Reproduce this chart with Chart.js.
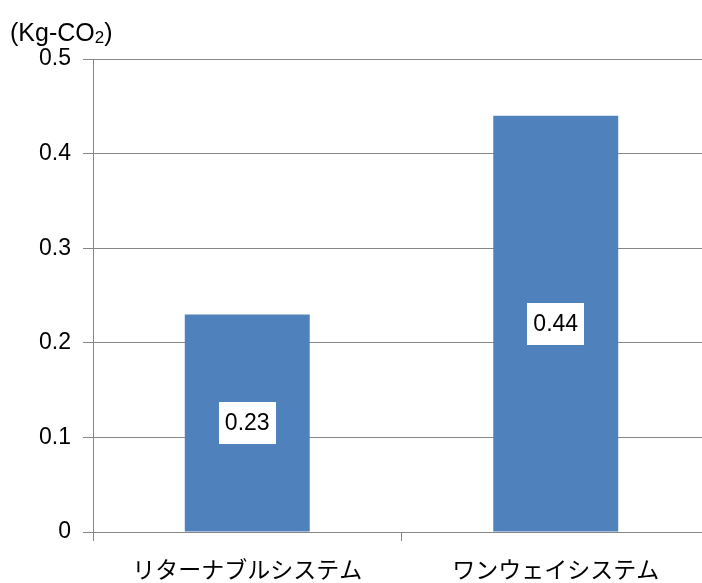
<!DOCTYPE html>
<html>
<head>
<meta charset="utf-8">
<script src="https://cdn.jsdelivr.net/npm/chart.js@4/dist/chart.umd.min.js"></script>
<style>
  html, body { margin: 0; padding: 0; background: #fff; overflow: hidden; }
  #wrap { width: 710px; height: 583px; position: relative; }
</style>
</head>
<body>
<div id="wrap"><canvas id="c"></canvas></div>
<script>
// Emissions per system (kg-CO2)
const categories = ['リターナブルシステム', 'ワンウェイシステム'];
const emissions = [0.23, 0.44];

const FONT = '"Liberation Sans", Arial, "Noto Sans CJK JP", sans-serif';
const AXIS_GREY = '#868686';

// Draws each value inside a white box centred on its bar
const valueBoxes = {
  id: 'valueBoxes',
  afterDatasetsDraw(chart) {
    const ctx = chart.ctx;
    const meta = chart.getDatasetMeta(0);
    ctx.save();
    ctx.font = '23px ' + FONT;
    ctx.textAlign = 'center';
    ctx.textBaseline = 'middle';
    meta.data.forEach((bar, i) => {
      const txt = emissions[i].toFixed(2);
      const cy = (bar.y + bar.base) / 2;
      const w = 57, h = 42;
      ctx.fillStyle = '#ffffff';
      ctx.fillRect(Math.round(bar.x - w / 2), Math.round(cy - h / 2), w, h);
      ctx.fillStyle = '#000000';
      ctx.fillText(txt, bar.x, cy + 1);
    });
    ctx.restore();
  }
};

// Unit caption above the value axis: (Kg-CO2) with a subscript 2
const unitCaption = {
  id: 'unitCaption',
  afterDraw(chart) {
    const ctx = chart.ctx;
    ctx.save();
    ctx.fillStyle = '#000';
    ctx.textBaseline = 'alphabetic';
    ctx.textAlign = 'left';
    ctx.font = '25px ' + FONT;
    const main = '(Kg-CO';
    const x0 = 10, base = 41;
    ctx.fillText(main, x0, base);
    let x = x0 + ctx.measureText(main).width;
    ctx.font = '17px ' + FONT;
    ctx.fillText('2', x, base + 2);
    x += ctx.measureText('2').width;
    ctx.font = '25px ' + FONT;
    ctx.fillText(')', x, base);
    ctx.restore();
  }
};

new Chart(document.getElementById('c'), {
  type: 'bar',
  data: {
    labels: categories,
    datasets: [{
      data: emissions,
      backgroundColor: '#4F81BD',
      borderWidth: 0,
      barPercentage: 0.405,
      categoryPercentage: 1.0
    }]
  },
  plugins: [valueBoxes, unitCaption],
  options: {
    responsive: true,
    maintainAspectRatio: false,
    animation: false,
    devicePixelRatio: 1,
    layout: { padding: { top: 59, right: 0, left: 0, bottom: 0 } },
    plugins: {
      legend: { display: false },
      tooltip: { enabled: false },
      title: { display: false }
    },
    scales: {
      x: {
        grid: {
          display: true,
          drawOnChartArea: false,
          drawTicks: true,
          tickLength: 9,
          color: AXIS_GREY,
          lineWidth: 1
        },
        border: { display: true, color: AXIS_GREY, width: 1 },
        ticks: {
          color: '#000',
          font: { family: FONT, size: 23 },
          padding: 17,
          maxRotation: 0
        },
        afterFit(scale) { scale.height = 51; }
      },
      y: {
        min: 0,
        max: 0.5,
        ticks: {
          stepSize: 0.1,
          color: '#000',
          font: { family: FONT, size: 23 },
          padding: 12,
          callback: v => (Math.round(v * 10) / 10).toString()
        },
        grid: {
          color: AXIS_GREY,
          lineWidth: 1,
          tickLength: 10,
          drawTicks: true
        },
        border: { display: true, color: AXIS_GREY, width: 1 },
        afterFit(scale) { scale.width = 93; }
      }
    }
  }
});
</script>
</body>
</html>
